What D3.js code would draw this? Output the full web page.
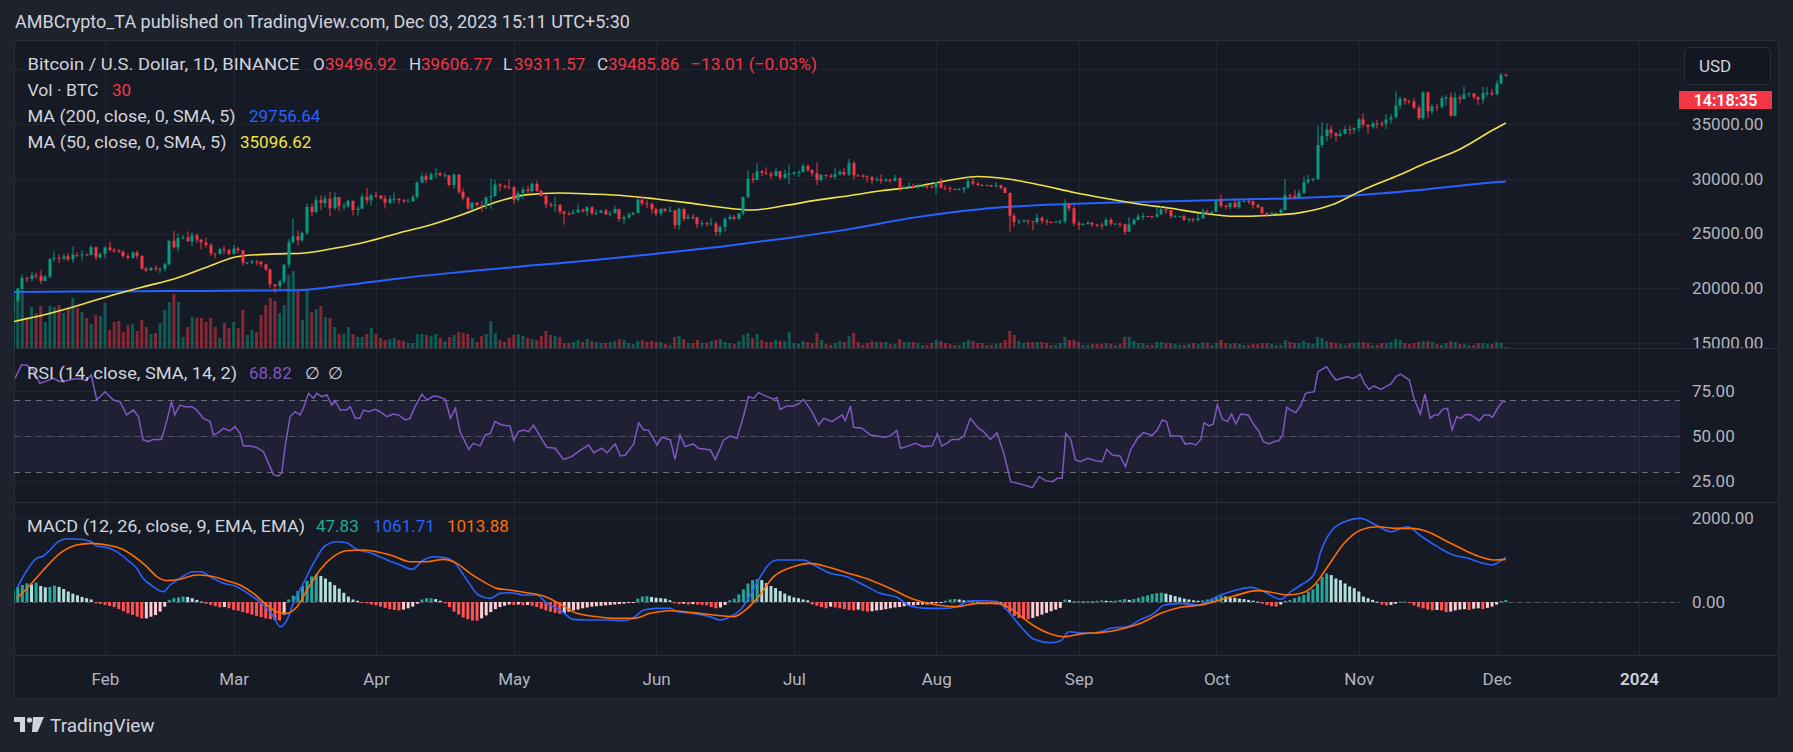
<!DOCTYPE html>
<html>
<head>
<meta charset="utf-8">
<script src="https://cdn.jsdelivr.net/npm/d3@7"></script>
<style>
  html, body { margin: 0; padding: 0; background: #1e222d; }
  svg { display: block; }
  text { font-family: Roboto, "Noto Sans", sans-serif; }
</style>
</head>
<body>
<svg id="chart"></svg>
<script>
// BTC/USD daily, Binance, 12 Jan 2023 -> 3 Dec 2023
const START_DAY = Date.UTC(2023, 0, 12);
const DAY_MS = 86400000;
const firstOpen = 17940;

const closes = [
  18850, 19930, 20950, 20870, 21180, 21130, 20670, 21070, 22670, 22780, 22710, 22920, 22630, 23060, 23010, 23080, 23030, 23740, 22830, 23130, // Jan
  23730, 23490, 23430, 23330, 22930, 22760, 23260, 22960, 21800, 21630, 21860, 21780, 21780, 22200, 24330, 23740, 24570, 24630, 24280, 24840, 24450, 24190, 23950, 23190, 23150, 23550, 23490, 23140, // Feb
  23630, 23470, 22350, 22350, 22430, 22410, 22200, 21700, 20360, 20190, 20630, 22160, 24200, 24750, 24380, 25050, 27430, 26970, 28040, 27770, 28180, 27310, 28330, 27490, 27490, 27990, 27140, 27270, 28350, 28030, 28480, // Mar
  28470, 28200, 27810, 28170, 28180, 28040, 27930, 27950, 28340, 29650, 30230, 29900, 30400, 30490, 30320, 30320, 29430, 30380, 28800, 28250, 27270, 27820, 27590, 27510, 28300, 28420, 29470, 29340, 29250, 29230, // Apr
  28070, 28680, 29030, 28850, 29530, 28900, 28430, 27660, 27630, 27630, 26990, 26800, 26780, 26930, 27170, 27030, 27400, 26830, 26890, 27110, 26750, 26850, 27230, 26330, 26480, 26720, 26870, 28090, 27740, 27700, 27220, // May
  26820, 27250, 27070, 27120, 25760, 27240, 26350, 26500, 26480, 25850, 25940, 25900, 25920, 25130, 25590, 26340, 26510, 26340, 26850, 28310, 30000, 29890, 30690, 30550, 30470, 30270, 30690, 30080, 30450, 30470, // Jun
  30590, 30620, 31160, 30770, 30510, 29900, 30350, 30290, 30170, 30410, 30620, 30390, 31450, 30310, 30290, 30230, 30140, 29860, 29910, 29800, 29910, 29800, 30080, 29180, 29230, 29350, 29210, 29310, 29350, 29280, 29230, // Jul
  29700, 29180, 29170, 29080, 29040, 29040, 29180, 29770, 29560, 29430, 29400, 29420, 29280, 29400, 29170, 28700, 26620, 26050, 26100, 26190, 26120, 26040, 26430, 26160, 26050, 26000, 26090, 26100, 27720, 27300, 25930, // Aug
  25800, 25870, 25970, 25820, 25780, 25750, 26240, 25900, 25900, 25840, 25160, 25840, 26230, 26540, 26600, 26570, 26530, 26760, 27210, 27130, 26570, 26580, 26580, 26250, 26300, 26220, 26370, 27030, 26910, 26970, // Sep
  27990, 27510, 27430, 27790, 27410, 27930, 27960, 27940, 27590, 27390, 26870, 26760, 26860, 26860, 27150, 28500, 28420, 28330, 28720, 29680, 29920, 29990, 33090, 33900, 34500, 34160, 33910, 34090, 34530, 34480, 34640, // Oct
  35420, 34940, 34730, 35080, 35050, 35040, 35420, 35620, 36700, 37310, 37130, 37060, 36490, 35540, 37880, 36160, 36600, 36570, 37360, 37450, 35750, 37420, 37290, 37720, 37780, 37450, 37240, 37830, 37850, 37720, // Nov
  38690, 39497, 39486 // Dec
];

const highs = [
  19100, 19990, 21260, 21050, 21470, 21440, 21650, 21180, 22750, 23370, 23080, 23170, 23190, 23820, 23290, 23500, 23180, 23960, 23810, 23230,
  23810, 24250, 23680, 23580, 23440, 23160, 23370, 23450, 23010, 21940, 21900, 22090, 21880, 22330, 24380, 25250, 25020, 24870, 25190, 25120, 25020, 24480, 24600, 24150, 23230, 23690, 23880, 23600,
  23950, 23780, 23480, 22410, 22610, 22600, 22530, 22270, 21820, 20370, 20790, 22180, 24500, 26390, 25250, 25160, 27760, 27720, 28390, 28480, 28500, 28790, 28750, 28350, 27780, 28100, 28010, 27500, 28650, 29150, 28640,
  28800, 28500, 28500, 28450, 28750, 28190, 28130, 28170, 28530, 29770, 30550, 30490, 30590, 31000, 30610, 30550, 30320, 30470, 30410, 29100, 28370, 27880, 27870, 28000, 28400, 30020, 29890, 29580, 29450, 29960,
  29330, 28900, 29260, 29370, 29680, 29830, 29000, 28630, 27830, 28340, 27680, 27070, 27030, 27200, 27660, 27290, 27490, 27480, 27180, 27160, 27270, 27060, 27500, 27250, 26640, 26900, 26980, 28200, 28450, 28050, 27830,
  27350, 27300, 27330, 27460, 27130, 27350, 27370, 26810, 26790, 26530, 26210, 26080, 26450, 26080, 25750, 26480, 26770, 26690, 26890, 28400, 30800, 30500, 31430, 30800, 31040, 30670, 31010, 30700, 30840, 31280,
  30650, 30790, 31380, 31330, 30890, 31500, 30440, 30380, 30450, 31040, 30800, 30970, 31800, 31630, 30400, 30440, 30340, 30250, 30190, 30400, 30050, 30000, 30350, 30100, 29390, 29690, 29570, 29530, 29410, 29450, 29530,
  29740, 30050, 29410, 29310, 29110, 29170, 29250, 30180, 30150, 29720, 29500, 29470, 29450, 29690, 29460, 29230, 28770, 26830, 26300, 26290, 26260, 26130, 26810, 26560, 26320, 26100, 26170, 26240, 28140, 27760, 27580,
  26130, 25990, 26130, 26090, 25870, 26000, 26440, 26450, 25940, 26000, 25900, 26500, 26390, 26790, 26880, 26620, 26620, 27410, 27490, 27390, 27160, 26720, 26630, 26720, 26450, 26400, 26820, 27300, 27220, 27080,
  28060, 28580, 27660, 27850, 28130, 28000, 28000, 28090, 28000, 27740, 27480, 26940, 27000, 26960, 27290, 30000, 28620, 28970, 29000, 30210, 30360, 30110, 34810, 35200, 35090, 34830, 34250, 34480, 34770, 34860, 34720,
  35570, 35980, 34940, 35250, 35380, 35290, 35900, 35900, 37970, 37520, 37400, 37230, 37400, 36750, 38000, 37980, 36860, 36830, 37530, 37640, 37860, 37880, 37650, 38420, 37890, 37830, 37590, 38420, 38390, 38180,
  38970, 39680, 39607
];

const lows = [
  17920, 18710, 19880, 20550, 20610, 20860, 20400, 20660, 20890, 22420, 22290, 22520, 22470, 22330, 22840, 22530, 22980, 23020, 22580, 22700,
  22760, 23360, 23240, 23260, 22750, 22630, 22700, 22670, 21690, 21450, 21600, 21530, 21350, 21530, 22080, 23610, 23340, 24450, 24270, 23860, 24150, 23570, 23710, 22950, 22720, 23070, 23110, 23010,
  23050, 23200, 22050, 22200, 22190, 22090, 21930, 21590, 20040, 19550, 19900, 20370, 21880, 24120, 23910, 24230, 24890, 26600, 26830, 27140, 27370, 26600, 27150, 27030, 27170, 27360, 26640, 26630, 27240, 27700, 27530,
  28260, 28080, 27280, 27670, 27800, 27710, 27780, 27870, 27870, 28180, 29610, 29630, 29870, 30040, 30220, 30100, 29270, 29110, 28590, 28010, 27130, 27140, 27370, 26970, 27210, 27250, 28380, 28880, 29070, 29030,
  27680, 27870, 28130, 28670, 28800, 28780, 28380, 27320, 27380, 26950, 26740, 25810, 26680, 26760, 26880, 26920, 26580, 26660, 26660, 26850, 26700, 26560, 26830, 26090, 25880, 26340, 26710, 26860, 27540, 27300, 26810,
  26600, 26560, 26930, 26950, 25390, 25340, 26110, 26300, 26280, 25500, 25600, 25630, 25730, 24790, 24800, 25170, 26180, 26240, 26260, 26650, 28240, 29600, 29820, 30250, 30320, 29990, 30200, 29880, 30020, 29500,
  30320, 30160, 30580, 30640, 30200, 29440, 29700, 30050, 30070, 29950, 30280, 30270, 30250, 29950, 30240, 30080, 29660, 29500, 29770, 29550, 29720, 29590, 29750, 28860, 29060, 29130, 29090, 29100, 29260, 29060, 29100,
  28590, 29120, 28960, 28740, 28970, 28960, 28700, 29100, 29370, 29320, 29330, 29350, 29260, 29280, 29050, 28700, 25170, 25620, 25810, 25970, 25810, 25300, 25850, 25860, 25780, 25960, 25990, 25860, 25920, 27020, 25660,
  25330, 25720, 25810, 25600, 25570, 25380, 25640, 25660, 25800, 25570, 24900, 25130, 25770, 26180, 26220, 26480, 26390, 26400, 26670, 26800, 26350, 26470, 26500, 26130, 25990, 26010, 26080, 26360, 26710, 26790,
  26950, 27300, 27180, 27220, 27300, 27240, 27860, 27680, 27260, 27300, 26560, 26560, 26620, 26800, 26810, 27110, 28120, 28110, 28180, 28600, 29500, 29720, 29890, 32830, 33420, 33700, 33400, 33830, 34100, 34020, 34110,
  34320, 34720, 34110, 34570, 34580, 34730, 34520, 35020, 35540, 36330, 36760, 36780, 36350, 35360, 35360, 35520, 35870, 36200, 36400, 36690, 35640, 35710, 36860, 37250, 37460, 37250, 36730, 36860, 37500, 37520,
  37630, 38620, 39312
];

// volume, thousands of BTC
const volumes = [
  440, 480, 464, 248, 328, 280, 336, 208, 336, 328, 344, 280, 320, 400, 320, 288, 240, 192, 264, 256,
  360, 144, 208, 216, 128, 184, 192, 136, 224, 168, 112, 120, 200, 304, 368, 432, 368, 88, 168, 248, 240, 240, 208, 240, 168, 80, 200, 160,
  208, 160, 304, 104, 144, 128, 264, 344, 400, 376, 280, 344, 584, 616, 464, 224, 464, 288, 312, 336, 248, 240, 168, 112, 112, 168, 112, 88, 88, 112, 160,
  112, 80, 64, 72, 80, 64, 56, 40, 40, 112, 112, 104, 96, 112, 80, 56, 88, 104, 128, 120, 112, 80, 48, 96, 112, 216, 120, 64, 48, 80,
  104, 112, 96, 80, 72, 64, 96, 136, 104, 96, 88, 40, 40, 48, 64, 48, 72, 56, 48, 40, 40, 48, 56, 72, 64, 40, 32, 56, 64, 48, 56,
  48, 48, 32, 24, 88, 96, 72, 40, 40, 64, 40, 40, 56, 64, 72, 48, 40, 32, 56, 104, 120, 80, 112, 64, 48, 48, 64, 56, 56, 128,
  40, 32, 56, 48, 40, 120, 64, 32, 24, 40, 56, 48, 96, 120, 48, 24, 40, 56, 48, 48, 48, 32, 32, 72, 48, 48, 48, 40, 24, 24, 40,
  64, 56, 40, 32, 24, 24, 48, 64, 56, 40, 40, 24, 24, 32, 40, 64, 136, 104, 56, 40, 48, 48, 48, 48, 40, 24, 24, 40, 88, 64, 64,
  48, 24, 24, 32, 32, 32, 40, 32, 24, 32, 88, 88, 56, 40, 40, 24, 24, 48, 48, 40, 40, 32, 24, 24, 32, 40, 32, 48, 40, 24,
  40, 64, 40, 32, 40, 32, 24, 24, 32, 32, 40, 40, 32, 24, 24, 64, 48, 40, 40, 56, 40, 32, 88, 80, 56, 48, 40, 32, 24, 40, 40,
  48, 48, 40, 24, 24, 40, 40, 48, 72, 64, 40, 32, 40, 48, 56, 56, 48, 32, 24, 40, 56, 48, 32, 32, 24, 24, 40, 40, 32, 32,
  48, 40, 8
];

// MACD histogram, one bar per day
const macdHist = [
  286, 360, 405, 444, 420, 460, 381, 349, 360, 390, 360, 310, 250, 200, 160, 120, 90, 60, -30, -45,
  -70, -95, -120, -170, -220, -270, -310, -350, -390, -390, -350, -310, -230, -110, 50, 90, 110, 130, 120, 90, 50, 10, -40, -70, -100, -130, -120, -150,
  -190, -210, -240, -270, -300, -330, -360, -390, -410, -430, -440, -300, 60, 150, 260, 380, 500, 610, 660, 620, 560, 480, 400, 320, 220, 130, 60, 30, -20, -30, -60,
  -80, -110, -140, -170, -190, -200, -180, -150, -110, -40, 60, 90, 90, 70, 30, -30, -120, -230, -300, -370, -410, -440, -445, -390, -320, -240, -170, -120, -90, -60,
  -70, -60, -80, -70, -90, -120, -160, -200, -230, -260, -280, -270, -230, -200, -180, -150, -130, -110, -100, -90, -80, -70, -60, -50, -40, -20, -10, 80, 130, 140, 120,
  100, 90, 80, 40, -30, -50, -40, -60, -50, -60, -70, -80, -120, -150, -130, -70, 40, 80, 180, 300, 440, 520, 540, 520, 450, 380, 330, 260, 200, 150,
  110, 90, 60, 40, -60, -90, -120, -150, -110, -130, -150, -170, -190, -200, -180, -210, -230, -220, -200, -190, -170, -150, -130, -120, -100, -90, -80, -70, -60, -60, -40,
  -30, -20, 30, 60, 70, 60, 40, 30, 20, 10, -10, -20, -40, -60, -60, -150, -250, -330, -380, -400, -410, -380, -340, -300, -260, -220, -180, -140, 60, 50, 10,
  20, 10, 20, 10, 30, 40, 30, 20, 30, 50, 70, 50, 70, 100, 130, 160, 190, 210, 220, 200, 170, 140, 110, 80, 60, 40, 30, 40, 60, 80,
  120, 140, 130, 110, 100, 80, 70, 50, 30, 10, -40, -70, -100, -110, -60, 30, 50, 90, 130, 170, 250, 300, 440, 600, 680, 640, 560, 520, 440, 370, 330,
  250, 130, 90, 50, 10, -60, -80, -70, -40, 10, 10, -10, -80, -120, -150, -180, -200, -190, -200, -240, -230, -200, -180, -170, -190, -160, -150, -170, -140, -110,
  -60, 20, 48
];

// indicator lines: [days since 12 Jan 2023, value]
const ma200Points = [[0,19660],[14,19700],[28,19730],[42,19760],[56,19800],[63,19850],[70,20150],[84,20900],[98,21500],[112,22050],[126,22550],[140,23150],[154,23800],[168,24550],[182,25400],[196,26450],[210,27200],[224,27600],[238,27800],[252,27950],[266,28100],[280,28250],[294,28550],[308,29050],[322,29650],[325,29757]];
const ma50Points = [[0,16950],[7,17600],[14,18400],[21,19300],[28,20100],[35,20850],[42,21900],[49,22900],[56,23120],[63,23200],[70,23650],[77,24250],[84,25050],[91,25800],[98,26750],[105,27850],[112,28550],[119,28700],[126,28600],[133,28450],[140,28150],[147,27800],[154,27400],[161,27150],[168,27550],[175,28050],[182,28450],[189,28900],[196,29250],[203,29800],[210,30200],[217,29950],[224,29400],[231,28750],[238,28200],[245,27700],[252,27300],[259,26850],[266,26570],[273,26650],[280,26880],[287,27600],[294,29000],[301,30200],[308,31500],[315,32700],[322,34400],[325,35097]];
const rsiPoints = [[0.4,82],[1.8,89.4],[2.9,89.4],[4.4,86.7],[5.8,79.3],[6.9,80.2],[8.7,82],[10.2,80.2],[12,81],[13.8,82],[16,81],[17,83.9],[18.2,70],[20,74.6],[21.8,70],[23.3,69],[24.7,61.7],[26.2,64.4],[27.3,60.7],[28.3,47.8],[29.4,46.9],[30.5,48.1],[32.3,48.1],[33.4,58],[34.5,69.1],[35.2,61.7],[36.3,67.2],[37.4,66.3],[38.9,66.3],[40,64.4],[41.4,59.8],[42.9,58],[43.6,50.6],[44.7,51.9],[45.8,54.3],[47.2,52.8],[48.3,55.2],[49.4,51.5],[50.1,44.5],[51.6,44.5],[53,43.7],[54.5,41.3],[55.6,34.8],[56.7,28.4],[57.8,27.8],[58.5,29.6],[59.2,44],[60.3,60.7],[61.4,63.5],[62.5,61.7],[63.2,65.4],[64.3,73.7],[65.4,70.9],[66.1,73.7],[67.2,71.9],[68.3,72.8],[69.4,67.2],[70.1,69.6],[71.2,64.4],[72.6,64.4],[73.4,66.3],[74.5,59.8],[75.5,59.8],[76.3,64.4],[77.4,63.5],[78.8,64.8],[79.9,63.5],[81.4,60.7],[82.8,62.2],[83.9,61.7],[85.4,58.9],[86.4,59.8],[87.5,66.3],[89,73.2],[90.1,70],[91.5,72.2],[92.6,71.9],[94.1,70.4],[95.2,59.8],[96.3,65.4],[97.3,52.4],[99.2,42.6],[100.2,45.9],[101.7,44.5],[102.8,50.6],[103.9,51.5],[104.9,58],[106.4,56.1],[108.2,55.6],[109,47.4],[110,52.4],[111.1,53.3],[112.2,52.4],[113.3,56.1],[114.7,50],[116.2,43.7],[118,43.2],[119.8,37],[121.6,38.5],[123.5,42.2],[125.3,45],[126.4,40.7],[128.2,43.2],[129.3,40.7],[131.1,45.6],[132.2,38.9],[133.3,39.4],[135.1,45.4],[136.2,57.3],[137.3,53.3],[138.3,53.3],[140.2,45],[141.2,49.3],[143.1,47.8],[144.1,37],[145.2,50.6],[146.3,44.1],[148.1,45.6],[149.2,43.2],[151.8,42.2],[152.9,37],[154.7,47.8],[156.1,50],[157.6,48.7],[159,60.7],[160.1,71.9],[161.2,70.9],[162.3,74.1],[164.1,71.9],[165.6,70.4],[166.3,71.3],[167,64.8],[168.5,66.7],[169.9,66.7],[171,67.8],[172.1,70.4],[173.9,63.5],[175.4,56.1],[176.5,59.8],[178.3,58],[180.5,61.7],[181.2,58.5],[182.3,66.7],[183,54.8],[184.8,54.3],[186.6,50.6],[188.1,50],[189.5,49.3],[190.9,50],[192.4,53],[193.2,43.2],[194.6,44.1],[196.4,45.9],[198.2,44.1],[200.1,44.5],[201.2,51.1],[202.2,44.5],[203.3,45.9],[204.4,48.1],[205.9,48.1],[207,50],[208.4,59.8],[210.2,54.3],[211.3,52.4],[212.8,48.1],[214.2,51.9],[215.7,40.4],[217.2,24.6],[219.4,23.3],[220.8,22.2],[221.9,21.3],[223.4,27.4],[224.8,25.2],[226.3,24.6],[227.3,26.5],[228.4,26.5],[229.2,51.5],[230.3,47.8],[231.3,36.7],[232.4,35.7],[234,37.6],[235.7,36.3],[237.1,35.7],[238.1,42.6],[239.3,39.4],[241,38.9],[242.2,33],[243.3,42.2],[244.8,48.7],[246.1,51.9],[248,50.4],[249.1,53.3],[250.2,58.9],[251.1,58],[252,50],[254.2,50],[255.2,45.5],[256.4,45.9],[257.5,45],[258.6,48.1],[259.3,57.4],[260.4,55.6],[261.3,56.7],[262.2,67.2],[263.3,59.3],[264.4,58],[265.3,62.2],[266.2,56.7],[267.3,62.2],[268.9,61.7],[270.2,56.1],[271.3,52.4],[272.2,46.9],[273.5,45.6],[274.6,46.9],[275.6,47.4],[276.4,50.5],[277.3,65.9],[278.2,64.4],[279.3,63],[280.4,67.2],[281.4,73.7],[283.3,74.6],[284.1,85.7],[286,88.5],[286.9,84.8],[288,81.1],[290.5,83],[291.6,82],[292.3,82.6],[293.3,84.4],[294.2,79.3],[295.2,75.9],[296.3,77.8],[297.8,75.9],[298.9,77.4],[300,78.9],[301.1,83],[302.1,84.4],[304,81.1],[305,70.9],[306.4,62.2],[307.4,73.4],[308.5,59.8],[309.4,61.7],[310.3,61.7],[311.2,64.8],[312.3,65.4],[313.3,53.3],[314.3,60.7],[315.2,59.8],[316.3,62],[317.4,61.7],[319.2,58.5],[320.3,61.7],[321.4,61.7],[322.1,60.4],[323.2,65.4],[324.4,69.4],[325,68.82]];
const macdPoints = [[0.8,325],[2.6,683],[5.1,1040],[6.6,1095],[8,1238],[9.8,1436],[11.3,1500],[13.8,1500],[16.7,1452],[18.2,1333],[20.4,1301],[22.5,1198],[24.7,1016],[26.9,801],[28.3,563],[30.5,365],[32.7,246],[34.2,405],[36.3,563],[39.2,722],[41,722],[42.9,603],[45.8,444],[48.7,365],[51.6,167],[54.5,-71],[56.7,-350],[58.1,-588],[59.6,-429],[61,-32],[63.2,444],[65.4,920],[67.9,1333],[70.5,1436],[72.6,1412],[74.8,1254],[77.7,1174],[81.4,1000],[84.3,881],[86.8,778],[89.4,1000],[91.5,1079],[93.7,1063],[95.9,960],[98.8,524],[101.3,167],[103.9,87],[106,206],[108.2,222],[111.1,167],[114,167],[116.2,-32],[119.1,-191],[122,-413],[124.9,-429],[129.3,-429],[132.9,-445],[135.4,-350],[137.3,-191],[140.2,-151],[143.1,-151],[144.5,-230],[148.1,-270],[151.8,-350],[153.9,-429],[156.1,-350],[158.3,-191],[160.5,167],[162.3,524],[164.1,841],[166.3,1000],[169.2,1000],[172.1,1000],[174.3,881],[177.9,683],[181.5,603],[185.2,405],[188.8,206],[192.4,111],[195.3,-96],[199,-151],[202.6,-151],[205.5,-111],[208.4,31],[211.3,31],[214.2,8],[216.4,-191],[219.4,-588],[222.3,-889],[225.9,-969],[228.1,-921],[229.9,-707],[233.2,-746],[236.8,-707],[239,-627],[242.6,-588],[245.5,-413],[248.4,-270],[250.6,-71],[254.2,-32],[257.8,-71],[260,8],[262.9,167],[265.8,270],[269.5,349],[272.4,246],[276,63],[278.2,246],[280.4,405],[283.3,667],[284.7,1198],[286.9,1674],[290.5,1936],[293.4,1992],[296.3,1857],[300,1674],[303.6,1793],[306.5,1571],[310.1,1317],[313,1143],[316.7,1040],[319.6,936],[322.1,881],[323.6,960],[325,1062]];
const signalPoints = [[0.8,87],[3.7,405],[6.6,762],[10.2,1158],[13.8,1357],[17.1,1397],[20.4,1357],[23.3,1278],[26.2,1095],[29.1,841],[31.3,603],[33.4,508],[36.3,540],[40,643],[42.9,619],[46.5,508],[49.4,405],[52.3,206],[55.2,-71],[57.4,-230],[59.6,-270],[61.8,-111],[64,286],[66.8,762],[69.7,1079],[72.6,1222],[76.3,1238],[79.2,1198],[82.8,1095],[86.4,960],[90.1,960],[93.7,1016],[96.6,920],[99.5,683],[102.4,484],[105.3,325],[108.2,286],[111.8,222],[115.5,143],[119.1,-48],[122.7,-270],[127.1,-350],[131.4,-389],[135.1,-389],[138.7,-270],[143.1,-207],[148.1,-254],[152.5,-310],[156.9,-350],[159,-230],[162,87],[165.6,603],[169.9,841],[173.6,920],[177.2,841],[181.5,698],[186.6,524],[191.7,286],[196.1,63],[201.2,-71],[205.5,-111],[209.9,-32],[214.2,-32],[217.1,-151],[218.6,-270],[222.3,-572],[225.9,-762],[228.8,-826],[233.2,-746],[236.8,-730],[241.1,-651],[245.5,-508],[249.9,-270],[254.2,-127],[258.6,-71],[262.2,31],[265.8,143],[270.9,270],[274.5,222],[277.5,167],[280.4,206],[283.3,405],[286.2,841],[289.8,1397],[293.4,1714],[297.1,1793],[300.7,1754],[304.3,1754],[308,1674],[311.6,1476],[315.2,1278],[318.9,1095],[322.5,1000],[325,1014]];

// ticks and labels
const priceTicks = [15000, 20000, 25000, 30000, 35000];
const priceGrid = [15000, 20000, 25000, 30000, 35000, 40000];
const rsiTicks = [25, 50, 75];
const rsiLevels = [70, 50, 30];
const macdTicks = [0, 2000];
const monthTicks = [[2023,1],[2023,2],[2023,3],[2023,4],[2023,5],[2023,6],[2023,7],[2023,8],[2023,9],[2023,10],[2023,11],[2024,0]].map(d => new Date(Date.UTC(d[0], d[1], 1)));
const monthLabels = ["Feb", "Mar", "Apr", "May", "Jun", "Jul", "Aug", "Sep", "Oct", "Nov", "Dec", "2024"];

const N = closes.length;
[highs, lows, volumes, macdHist].forEach((a, k) => {
  if (a.length !== N) throw new Error("array " + k + " has " + a.length + " values, expected " + N);
});

const W = 1793, H = 752;
const L = { left: 14, plotRight: 1680, right: 1778, top: 40, priceBottom: 348, rsiBottom: 502, macdBottom: 655, bottom: 698 };

const upColor = "#089981", downColor = "#f23645";
const textColor = "#d1d4dc", axisText = "#b2b5be";

const dayDate = d => new Date(START_DAY + d * DAY_MS);
const candles = closes.map((c, i) => ({
  i: i,
  date: dayDate(i),
  open: i === 0 ? firstOpen : closes[i - 1],
  high: highs[i],
  low: lows[i],
  close: c,
  vol: volumes[i],
  hist: macdHist[i]
}));

const x = d3.scaleUtc()
  .domain([new Date(Date.UTC(2023, 1, 1)), new Date(Date.UTC(2024, 0, 1))])
  .range([105, 1639]);
const yPrice = d3.scaleLinear().domain([15000, 35000]).range([343, 124]);
const yVol = d3.scaleLinear().domain([0, 800]).range([L.priceBottom, 248]);
const yRsi = d3.scaleLinear().domain([25, 75]).range([481, 391]);
const yMacd = d3.scaleLinear().domain([0, 2000]).range([602, 518]);

const svg = d3.select('#chart').attr('width', W).attr('height', H);
const defs = svg.append('defs');
defs.append('clipPath').attr('id', 'plot-clip').append('rect')
  .attr('x', L.left).attr('y', L.top).attr('width', L.plotRight - L.left).attr('height', L.macdBottom - L.top);
defs.append('clipPath').attr('id', 'price-axis-clip').append('rect')
  .attr('x', L.plotRight).attr('y', L.top).attr('width', L.right - L.plotRight).attr('height', L.priceBottom - L.top);

svg.append('rect').attr('width', W).attr('height', H).attr('fill', '#1e222d');
svg.append('rect')
  .attr('x', L.left + 0.5).attr('y', L.top + 0.5)
  .attr('width', L.right - L.left).attr('height', L.bottom - L.top)
  .attr('fill', '#161a25').attr('stroke', '#2a2e39');

// grid
const grid = svg.append('g').attr('stroke', '#22262f').attr('stroke-width', 1);
grid.selectAll('line.vg').data(monthTicks).join('line')
  .attr('x1', d => Math.round(x(d)) + 0.5).attr('x2', d => Math.round(x(d)) + 0.5)
  .attr('y1', L.top).attr('y2', L.macdBottom);
grid.selectAll('line.pg').data(priceGrid).join('line')
  .attr('x1', L.left).attr('x2', L.plotRight)
  .attr('y1', d => Math.round(yPrice(d)) + 0.5).attr('y2', d => Math.round(yPrice(d)) + 0.5);
grid.selectAll('line.rg').data(rsiTicks).join('line')
  .attr('x1', L.left).attr('x2', L.plotRight)
  .attr('y1', d => Math.round(yRsi(d)) + 0.5).attr('y2', d => Math.round(yRsi(d)) + 0.5);
grid.selectAll('line.mg').data(macdTicks).join('line')
  .attr('x1', L.left).attr('x2', L.plotRight)
  .attr('y1', d => Math.round(yMacd(d)) + 0.5).attr('y2', d => Math.round(yMacd(d)) + 0.5);

const plot = svg.append('g').attr('clip-path', 'url(#plot-clip)');

// volume
plot.append('g').selectAll('rect').data(candles).join('rect')
  .attr('x', d => x(d.date) - 1.5)
  .attr('width', 3)
  .attr('y', d => yVol(d.vol))
  .attr('height', d => L.priceBottom - yVol(d.vol))
  .attr('fill', d => d.close >= d.open ? 'rgba(8,153,129,0.5)' : 'rgba(242,54,69,0.5)');

// moving averages
const smooth = (yScale) => d3.line()
  .x(d => x(dayDate(d[0])))
  .y(d => yScale(d[1]))
  .curve(d3.curveMonotoneX);
plot.append('path').datum(ma200Points).attr('d', smooth(yPrice))
  .attr('fill', 'none').attr('stroke', '#2962ff').attr('stroke-width', 2);
plot.append('path').datum(ma50Points).attr('d', smooth(yPrice))
  .attr('fill', 'none').attr('stroke', '#f2e24a').attr('stroke-width', 1.6);

// candles
const candleG = plot.append('g').selectAll('g').data(candles).join('g')
  .attr('fill', d => d.close >= d.open ? upColor : downColor);
candleG.append('rect')
  .attr('x', d => Math.round(x(d.date)) - 0.5)
  .attr('width', 1)
  .attr('y', d => yPrice(d.high))
  .attr('height', d => Math.max(1, yPrice(d.low) - yPrice(d.high)));
candleG.append('rect')
  .attr('x', d => Math.round(x(d.date)) - 1.5)
  .attr('width', 3)
  .attr('y', d => yPrice(Math.max(d.open, d.close)))
  .attr('height', d => Math.max(1, Math.abs(yPrice(d.open) - yPrice(d.close))));

// RSI pane
plot.append('rect')
  .attr('x', L.left).attr('width', L.plotRight - L.left)
  .attr('y', yRsi(70)).attr('height', yRsi(30) - yRsi(70))
  .attr('fill', 'rgba(126,87,194,0.1)');
plot.append('g').selectAll('line').data(rsiLevels).join('line')
  .attr('x1', L.left).attr('x2', L.plotRight)
  .attr('y1', d => Math.round(yRsi(d)) + 0.5).attr('y2', d => Math.round(yRsi(d)) + 0.5)
  .attr('stroke', '#787b86').attr('stroke-opacity', d => d === 50 ? 0.5 : 0.85)
  .attr('stroke-dasharray', '6,5');
plot.append('path').datum(rsiPoints)
  .attr('d', d3.line().x(d => x(dayDate(d[0]))).y(d => yRsi(d[1])))
  .attr('fill', 'none').attr('stroke', '#7e57c2').attr('stroke-width', 1.5);

// MACD pane
plot.append('line')
  .attr('x1', L.left).attr('x2', L.plotRight)
  .attr('y1', Math.round(yMacd(0)) + 0.5).attr('y2', Math.round(yMacd(0)) + 0.5)
  .attr('stroke', '#787b86').attr('stroke-opacity', 0.5).attr('stroke-dasharray', '5,4');
plot.append('g').selectAll('rect').data(candles).join('rect')
  .attr('x', d => x(d.date) - 1.5)
  .attr('width', 3)
  .attr('y', d => Math.min(yMacd(0), yMacd(d.hist)))
  .attr('height', d => Math.max(1, Math.abs(yMacd(d.hist) - yMacd(0))))
  .attr('fill', (d, i) => {
    const prev = i > 0 ? macdHist[i - 1] : 0;
    if (d.hist >= 0) return d.hist >= prev ? '#26a69a' : '#b2dfdb';
    return d.hist < prev ? '#ff5252' : '#ffcdd2';
  });
plot.append('path').datum(macdPoints).attr('d', smooth(yMacd))
  .attr('fill', 'none').attr('stroke', '#2962ff').attr('stroke-width', 1.6);
plot.append('path').datum(signalPoints).attr('d', smooth(yMacd))
  .attr('fill', 'none').attr('stroke', '#ff6d00').attr('stroke-width', 1.6);

// pane separators
svg.append('g').attr('stroke', '#2a2e39').selectAll('line')
  .data([L.priceBottom, L.rsiBottom, L.macdBottom]).join('line')
  .attr('x1', L.left).attr('x2', L.right)
  .attr('y1', d => d + 0.5).attr('y2', d => d + 0.5);

// axes
function styleAxis(g) {
  g.select('.domain').remove();
  g.selectAll('text').attr('fill', axisText).style('font-size', '17px')
    .style('font-family', 'Roboto, "Noto Sans", sans-serif');
}
svg.append('g').attr('clip-path', 'url(#price-axis-clip)')
  .append('g').attr('transform', `translate(${L.plotRight},0)`)
  .call(d3.axisRight(yPrice).tickValues(priceTicks).tickFormat(d3.format('.2f')).tickSize(0).tickPadding(12))
  .call(styleAxis);
svg.append('g').attr('transform', `translate(${L.plotRight},0)`)
  .call(d3.axisRight(yRsi).tickValues(rsiTicks).tickFormat(d3.format('.2f')).tickSize(0).tickPadding(12))
  .call(styleAxis);
svg.append('g').attr('transform', `translate(${L.plotRight},0)`)
  .call(d3.axisRight(yMacd).tickValues(macdTicks).tickFormat(d3.format('.2f')).tickSize(0).tickPadding(12))
  .call(styleAxis);
svg.append('g').attr('transform', `translate(0,${L.macdBottom})`)
  .call(d3.axisBottom(x).tickValues(monthTicks).tickFormat((d, i) => monthLabels[i]).tickSize(0))
  .call(styleAxis)
  .call(g => g.selectAll('text').attr('y', 24).attr('dy', '0.35em')
    .style('font-weight', (d, i) => monthLabels[i] === '2024' ? 600 : 400)
    .attr('fill', (d, i) => monthLabels[i] === '2024' ? '#d1d4dc' : axisText));

// currency box and countdown label
svg.append('rect').attr('x', 1684.5).attr('y', 47.5).attr('width', 86).attr('height', 37).attr('rx', 5)
  .attr('fill', '#131722').attr('stroke', '#2a2e39');
svg.append('text').attr('x', 1699).attr('y', 72).attr('fill', textColor).style('font-size', '17px').text('USD');
svg.append('rect').attr('x', 1679).attr('y', 91).attr('width', 93).attr('height', 18).attr('fill', '#f23645');
svg.append('text').attr('x', 1725.5).attr('y', 105.5).attr('text-anchor', 'middle').attr('fill', '#ffffff')
  .style('font-size', '16px').style('font-weight', 600).text('14:18:35');

// title
svg.append('text').attr('x', 15).attr('y', 28).attr('fill', textColor).style('font-size', '18px')
  .text('AMBCrypto_TA published on TradingView.com, Dec 03, 2023 15:11 UTC+5:30');

// legends: [x, text, colour, optional width]
function legendRow(y, parts) {
  const t = svg.append('text').attr('y', y).style('font-size', '17px');
  parts.forEach(p => {
    const s = t.append('tspan').attr('x', p[0]).attr('fill', p[2]).text(p[1]);
    if (p[3]) s.attr('textLength', p[3]).attr('lengthAdjust', 'spacingAndGlyphs');
  });
}
const red = '#f23645';
legendRow(70, [[27.5, 'Bitcoin / U.S. Dollar, 1D, BINANCE', textColor, 272], [313, 'O', textColor], [325, '39496.92', red],
  [409, 'H', textColor], [421, '39606.77', red], [503, 'L', textColor], [514, '39311.57', red],
  [597, 'C', textColor], [608, '39485.86', red], [691, '\u221213.01 (\u22120.03%)', red, 126]]);
legendRow(96, [[27.5, 'Vol \u00b7 BTC', textColor, 71], [112, '30', red]]);
legendRow(122, [[27.5, 'MA (200, close, 0, SMA, 5)', textColor, 208], [249, '29756.64', '#2962ff']]);
legendRow(148, [[27.5, 'MA (50, close, 0, SMA, 5)', textColor, 199], [240, '35096.62', '#f2e24a']]);
legendRow(379, [[27, 'RSI (14, close, SMA, 14, 2)', textColor, 210], [249, '68.82', '#7e57c2'], [305, '\u2205', textColor], [328, '\u2205', textColor]]);
legendRow(532, [[27, 'MACD (12, 26, close, 9, EMA, EMA)', textColor, 278], [316, '47.83', '#22ab94'], [373, '1061.71', '#2962ff'], [447, '1013.88', '#ff6d00']]);

// TradingView logo
const logo = svg.append('g').attr('fill', textColor);
logo.append('path').attr('d', 'M14,717 H25 V732 H20 V722 H14 Z');
logo.append('circle').attr('cx', 29.5).attr('cy', 720).attr('r', 2.6);
logo.append('path').attr('d', 'M33,717 H44 L37.5,732 H32 Z');
svg.append('text').attr('x', 50).attr('y', 732).attr('fill', textColor).style('font-size', '19px').text('TradingView');
</script>
</body>
</html>
